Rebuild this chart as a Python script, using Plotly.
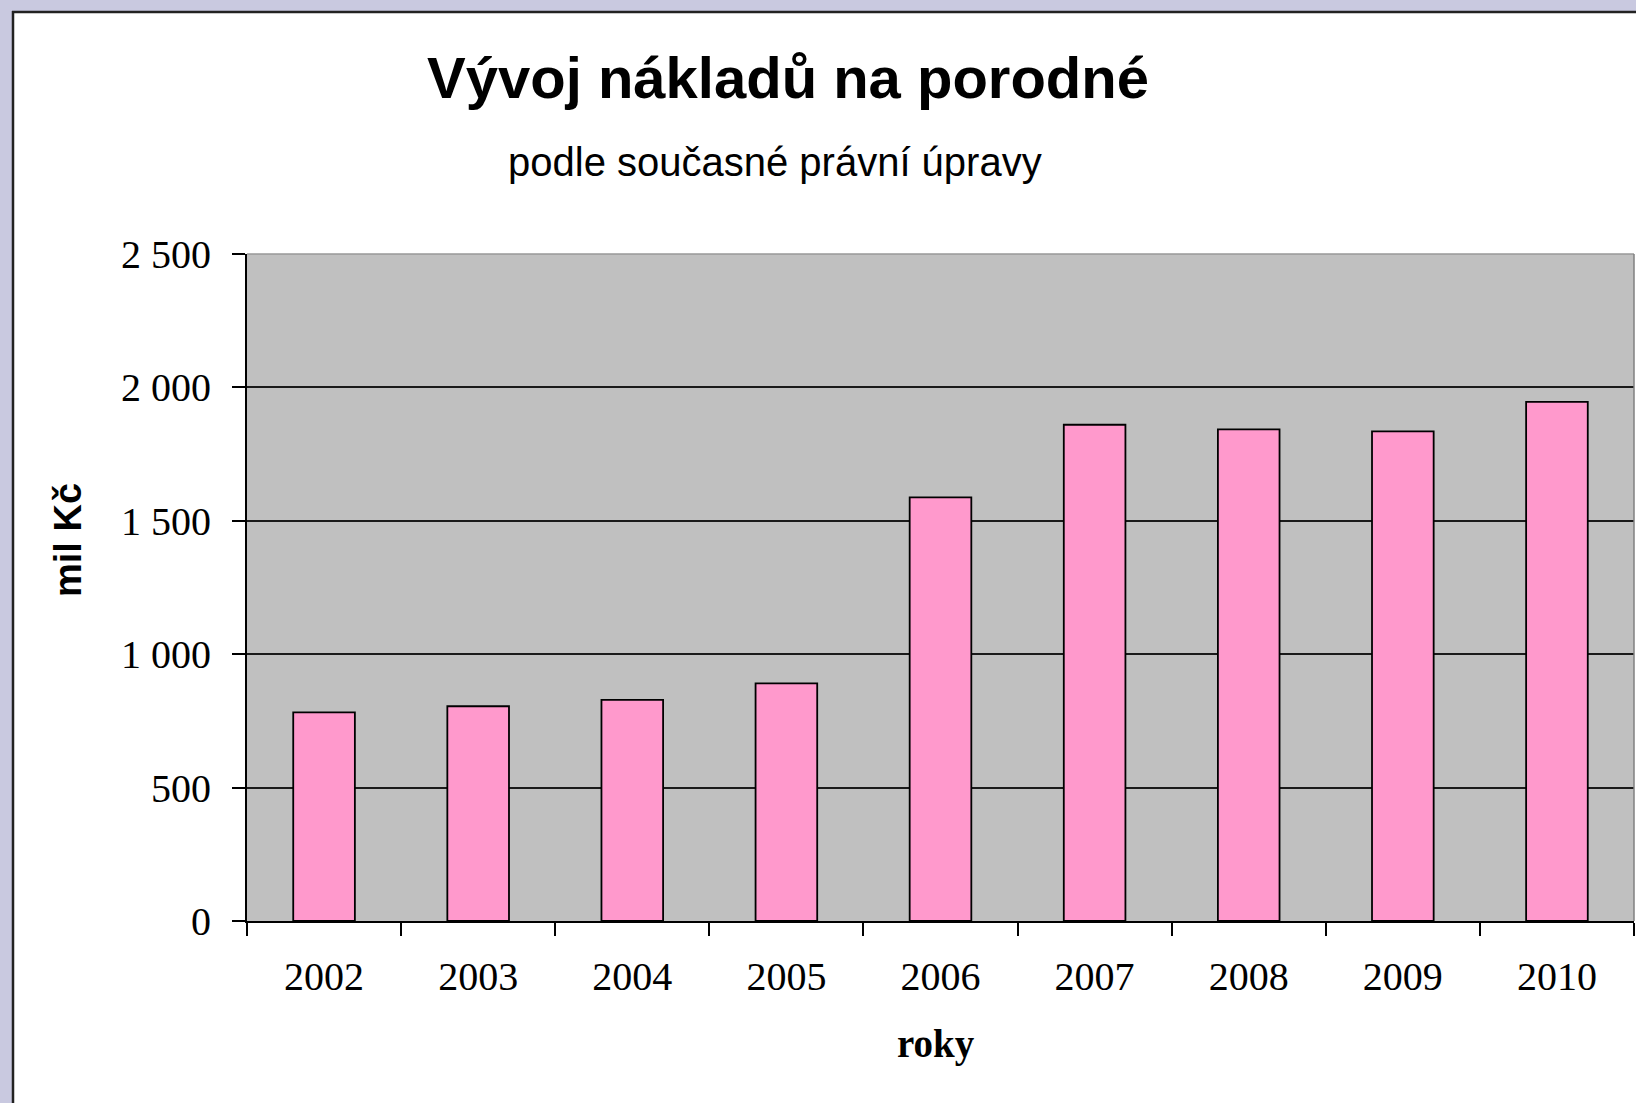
import plotly.graph_objects as go

# ---- data ----
years = ["2002", "2003", "2004", "2005", "2006", "2007", "2008", "2009", "2010"]
costs = [782, 805, 829, 891, 1588, 1860, 1843, 1835, 1946]
y_tick_vals = [0, 500, 1000, 1500, 2000, 2500]
y_tick_text = ["0", "500", "1 000", "1 500", "2 000", "2 500"]

title_text = "Vývoj nákladů na porodné"
subtitle_text = "podle současné právní úpravy"
y_title = "mil Kč"
x_title = "roky"

# ---- layout geometry (pixels) ----
W, H = 1636, 1103
L, R, T, B = 247, 1634, 254, 921
LAV = "#C9C9E0"
BORDER = "#222222"


def px_x(p):
    return (p - L) / (R - L)


def px_y(p):
    return (B - p) / (B - T)


fig = go.Figure()
fig.add_trace(go.Bar(
    x=years, y=costs,
    marker=dict(color="#FF99CC", line=dict(color="#000000", width=1.8)),
    showlegend=False,
))

shapes = [
    dict(type="rect", xref="paper", yref="paper", x0=px_x(0), x1=px_x(12),
         y0=px_y(H), y1=px_y(0), fillcolor=LAV, line=dict(width=0)),
    dict(type="rect", xref="paper", yref="paper", x0=px_x(0), x1=px_x(W),
         y0=px_y(11), y1=px_y(0), fillcolor=LAV, line=dict(width=0)),
    dict(type="line", xref="paper", yref="paper", x0=px_x(13), x1=px_x(13),
         y0=px_y(11), y1=px_y(H), line=dict(color=BORDER, width=2.5)),
    dict(type="line", xref="paper", yref="paper", x0=px_x(12), x1=px_x(W),
         y0=px_y(12), y1=px_y(12), line=dict(color=BORDER, width=2.5)),
    # light top/right border of plot area
    dict(type="line", xref="paper", yref="paper", x0=0, x1=1, y0=1, y1=1,
         line=dict(color="#999999", width=1.5)),
    dict(type="line", xref="paper", yref="paper", x0=1, x1=1, y0=0, y1=1,
         line=dict(color="#808080", width=1.5)),
]

annotations = [
    dict(text=subtitle_text, xref="paper", yref="paper", x=px_x(775), y=px_y(162),
         xanchor="center", yanchor="middle", showarrow=False,
         font=dict(family="Liberation Sans, Arial", size=40, color="#000")),
    dict(text=y_title, xref="paper", yref="paper", x=px_x(68), y=px_y(540),
         xanchor="center", yanchor="middle", showarrow=False, textangle=-90,
         font=dict(family="Liberation Sans, Arial", size=38, color="#000", weight="bold")),
    dict(text=x_title, xref="paper", yref="paper", x=px_x(936), y=px_y(1044),
         xanchor="center", yanchor="middle", showarrow=False,
         font=dict(family="Liberation Serif, Times New Roman", size=39, color="#000", weight="bold")),
]

fig.update_layout(
    width=W, height=H,
    margin=dict(l=L, r=W - R, t=T, b=H - B, pad=0),
    paper_bgcolor="#FFFFFF",
    plot_bgcolor="#C0C0C0",
    bargap=0.6,
    title=dict(text=title_text, xref="container", yref="container",
               x=788 / W, y=1 - 78 / H, xanchor="center", yanchor="middle",
               font=dict(family="Liberation Sans, Arial", size=58, color="#000", weight="bold")),
    shapes=shapes,
    annotations=annotations,
    xaxis=dict(
        type="category", tickson="boundaries", ticks="outside", ticklen=13,
        tickwidth=2, tickcolor="#000", showgrid=False, showline=True,
        linecolor="#000", linewidth=2,
        tickfont=dict(family="Liberation Serif, Times New Roman", size=40, color="#000"),
        ticklabelstandoff=19,
    ),
    yaxis=dict(
        range=[0, 2500], tickvals=y_tick_vals, ticktext=y_tick_text,
        ticks="outside", ticklen=13, tickwidth=2, tickcolor="#000",
        showgrid=True, gridcolor="#1a1a1a", gridwidth=1.8,
        showline=True, linecolor="#000", linewidth=2, zeroline=False,
        tickfont=dict(family="Liberation Serif, Times New Roman", size=40, color="#000"),
        ticklabelstandoff=13,
    ),
)

fig.write_html("out.html", config={"displayModeBar": False},
               post_script="document.body.style.margin='0';document.body.style.overflow='hidden';")
